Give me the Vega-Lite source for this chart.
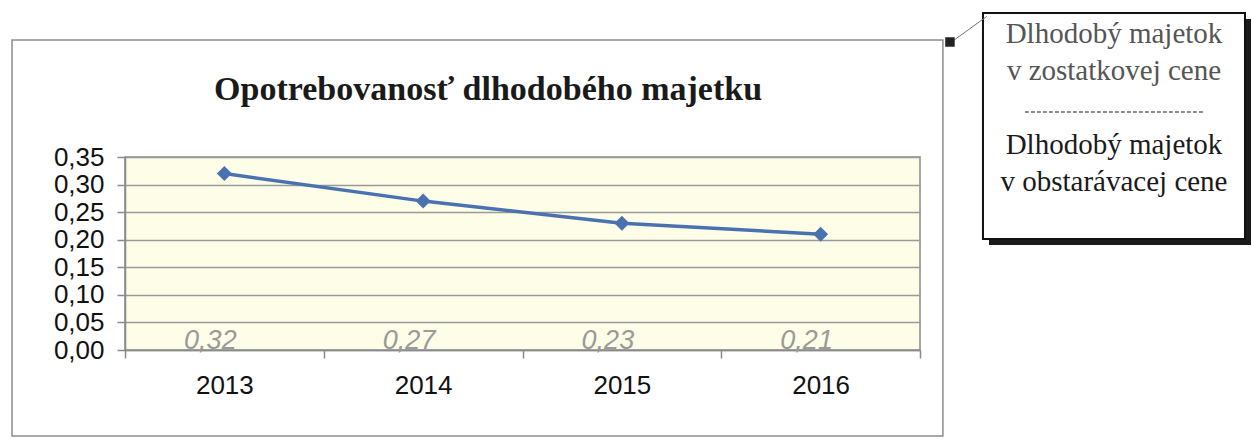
{
  "$schema": "https://vega.github.io/schema/vega-lite/v6.json",
  "width": 795,
  "height": 193,
  "autosize": {"type": "none"},
  "padding": {"left": 125, "top": 157, "right": 332, "bottom": 89},
  "background": "white",
  "config": {
    "view": {"fill": "#fdfde8", "stroke": "#8a8a8a", "strokeWidth": 1.5},
    "locale": {"number": {"decimal": ",", "thousands": " ", "grouping": [3], "currency": ["", " €"]}}
  },
  "datasets": {
    "ratio": [
      {"year": "2013", "value": 0.32},
      {"year": "2014", "value": 0.27},
      {"year": "2015", "value": 0.23},
      {"year": "2016", "value": 0.21}
    ],
    "callout": [
      {"row": 1, "label": "Dlhodobý majetok", "part": "zostatková cena"},
      {"row": 2, "label": "v zostatkovej cene", "part": "zostatková cena"},
      {"row": 4, "label": "Dlhodobý majetok", "part": "obstarávacia cena"},
      {"row": 5, "label": "v obstarávacej cene", "part": "obstarávacia cena"}
    ]
  },
  "layer": [
    {
      "data": {"name": "ratio"},
      "encoding": {
        "x": {
          "field": "year", "type": "ordinal", "bandPosition": 0.5,
          "scale": {"type": "band", "paddingInner": 0, "paddingOuter": 0},
          "axis": {
            "title": null, "labelAngle": 0, "labelFont": "Liberation Sans", "labelFontSize": 26,
            "labelColor": "#111111", "labelPadding": 14, "tickBand": "extent", "tickSize": 8,
            "tickColor": "#8a8a8a", "tickWidth": 1.5, "domainColor": "#8a8a8a", "domainWidth": 1.5, "grid": false
          }
        },
        "y": {
          "field": "value", "type": "quantitative",
          "scale": {"domain": [0, 0.35], "nice": false},
          "axis": {
            "title": null, "values": [0, 0.05, 0.1, 0.15, 0.2, 0.25, 0.3, 0.35], "format": ".2f",
            "labelFont": "Liberation Sans", "labelFontSize": 26, "labelColor": "#111111", "labelPadding": 13,
            "labelOverlap": false, "labelFlush": false, "tickSize": 8, "tickColor": "#8a8a8a", "tickWidth": 1.5,
            "domainColor": "#8a8a8a", "domainWidth": 1.5, "grid": true, "gridColor": "#9a9a9a", "gridWidth": 1.5
          }
        }
      },
      "layer": [
        {"mark": {"type": "line", "color": "#4a72b0", "strokeWidth": 3.5}},
        {"mark": {"type": "point", "shape": "diamond", "filled": true, "size": 225, "color": "#4a72b0", "opacity": 1}},
        {
          "mark": {"type": "text", "font": "Liberation Sans", "fontSize": 27, "fontStyle": "italic", "color": "#9a9a9a", "baseline": "alphabetic", "dx": -14, "dy": -1},
          "encoding": {
            "y": {"datum": 0, "type": "quantitative"},
            "text": {"field": "value", "type": "quantitative", "format": ".2f"}
          }
        }
      ]
    },
    {
      "layer": [
        {
          "data": {"values": [{}]},
          "mark": {"type": "rect", "filled": false, "stroke": "#8c8c8c", "strokeWidth": 1.5},
          "encoding": {
            "x": {"datum": -3.706, "type": "quantitative", "scale": {"domain": [-3.2748, -0.2404], "nice": false, "zero": false}, "axis": null},
            "x2": {"datum": -0.153},
            "y": {"datum": 0.919, "type": "quantitative", "scale": {"domain": [4.081, 9.297], "nice": false, "zero": false, "reverse": true}, "axis": null},
            "y2": {"datum": 11.62}
          }
        },
        {
          "data": {"values": [{}]},
          "mark": {"type": "text", "font": "Liberation Serif", "fontSize": 34, "fontWeight": "bold", "color": "#1a1a1a", "align": "center", "baseline": "alphabetic"},
          "encoding": {
            "x": {"datum": -1.889, "type": "quantitative", "scale": {"domain": [-3.2748, -0.2404], "nice": false, "zero": false}, "axis": null},
            "y": {"datum": 2.54, "type": "quantitative", "scale": {"domain": [4.081, 9.297], "nice": false, "zero": false, "reverse": true}, "axis": null},
            "text": {"value": "Opotrebovanosť dlhodobého majetku"}
          }
        },
        {
          "data": {"values": [{}]},
          "mark": {"type": "rect", "fill": "#1a1a1a"},
          "encoding": {
            "x": {"datum": 0.023, "type": "quantitative", "scale": {"domain": [-3.2748, -0.2404], "nice": false, "zero": false}, "axis": null},
            "x2": {"datum": 1.023},
            "y": {"datum": 0.351, "type": "quantitative", "scale": {"domain": [4.081, 9.297], "nice": false, "zero": false, "reverse": true}, "axis": null},
            "y2": {"datum": 6.459}
          }
        },
        {
          "data": {"values": [{}]},
          "mark": {"type": "rect", "fill": "white", "stroke": "#111111", "strokeWidth": 2},
          "encoding": {
            "x": {"datum": 0, "type": "quantitative", "scale": {"domain": [-3.2748, -0.2404], "nice": false, "zero": false}, "axis": null},
            "x2": {"datum": 1},
            "y": {"datum": 0.189, "type": "quantitative", "scale": {"domain": [4.081, 9.297], "nice": false, "zero": false, "reverse": true}, "axis": null},
            "y2": {"datum": 6.297}
          }
        },
        {
          "data": {"values": [{}]},
          "mark": {"type": "rule", "color": "#666666", "strokeWidth": 1.5, "strokeDash": [4, 2]},
          "encoding": {
            "x": {"datum": 0.16, "type": "quantitative", "scale": {"domain": [-3.2748, -0.2404], "nice": false, "zero": false}, "axis": null},
            "x2": {"datum": 0.84},
            "y": {"datum": 2.865, "type": "quantitative", "scale": {"domain": [4.081, 9.297], "nice": false, "zero": false, "reverse": true}, "axis": null}
          }
        },
        {
          "data": {"name": "callout"},
          "mark": {"type": "text", "font": "Liberation Serif", "fontSize": 29, "align": "center", "baseline": "alphabetic"},
          "encoding": {
            "x": {"datum": 0.5, "type": "quantitative", "scale": {"domain": [-3.2748, -0.2404], "nice": false, "zero": false}, "axis": null},
            "y": {"field": "row", "type": "quantitative", "scale": {"domain": [4.081, 9.297], "nice": false, "zero": false, "reverse": true}, "axis": null},
            "text": {"field": "label"},
            "color": {"field": "part", "type": "nominal", "scale": {"domain": ["zostatková cena", "obstarávacia cena"], "range": ["#555555", "#1a1a1a"]}, "legend": null}
          }
        },
        {
          "data": {"values": [{}]},
          "mark": {"type": "rule", "color": "#777777", "strokeWidth": 1},
          "encoding": {
            "x": {"datum": -0.11, "type": "quantitative", "scale": {"domain": [-3.2748, -0.2404], "nice": false, "zero": false}, "axis": null},
            "x2": {"datum": 0.015},
            "y": {"datum": 0.92, "type": "quantitative", "scale": {"domain": [4.081, 9.297], "nice": false, "zero": false, "reverse": true}, "axis": null},
            "y2": {"datum": 0.28}
          }
        },
        {
          "data": {"values": [{}]},
          "mark": {"type": "point", "shape": "square", "filled": true, "size": 90, "color": "#222222", "opacity": 1},
          "encoding": {
            "x": {"datum": -0.126, "type": "quantitative", "scale": {"domain": [-3.2748, -0.2404], "nice": false, "zero": false}, "axis": null},
            "y": {"datum": 0.973, "type": "quantitative", "scale": {"domain": [4.081, 9.297], "nice": false, "zero": false, "reverse": true}, "axis": null}
          }
        }
      ]
    }
  ],
  "resolve": {"scale": {"x": "independent", "y": "independent", "color": "independent"}, "axis": {"x": "independent", "y": "independent"}}
}
